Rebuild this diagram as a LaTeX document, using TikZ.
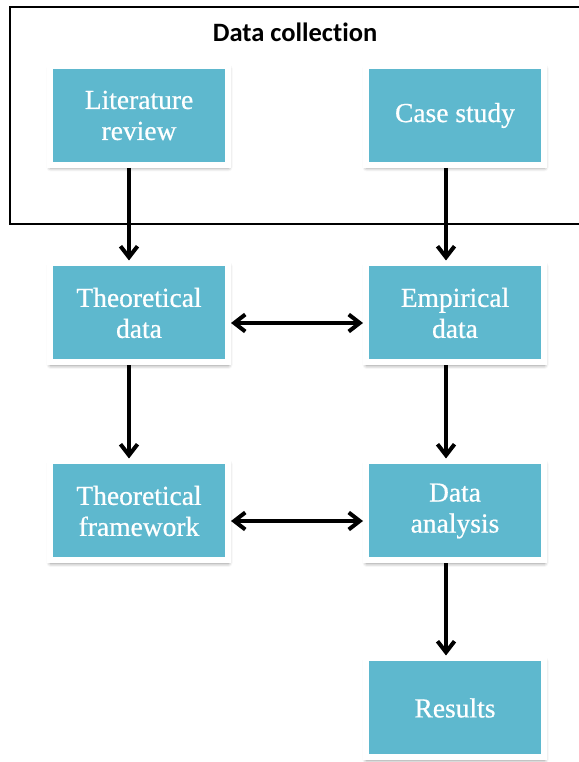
\documentclass[tikz,border=0pt]{standalone}
\usepackage{fontspec}
\setmainfont{Liberation Serif}[FakeBold=0.6]
\newfontfamily\titlefont{Carlito}[Ligatures=NoCommon]
\usetikzlibrary{arrows.meta,shadows.blur}
\definecolor{boxteal}{RGB}{94,184,206}
\tikzset{
  stepbox/.style={draw=white, line width=6pt, fill=boxteal,
    minimum width=178pt, minimum height=99pt, inner sep=0pt,
    align=center, text=white,
    font=\fontsize{27.5}{31}\selectfont,
    blur shadow={shadow xshift=0.5pt, shadow yshift=-2.5pt,
      shadow blur radius=4pt, shadow opacity=55}},
  flow/.style={line width=4pt, -{Straight Barb[length=11pt,width=17pt]}},
  both/.style={line width=4pt, {Straight Barb[length=11pt,width=17pt]}-{Straight Barb[length=11pt,width=17pt]}}
}
\begin{document}
\begin{tikzpicture}[x=1pt,y=1pt]
\useasboundingbox (0,0) rectangle (578,762);
% frame around the data collection stage
\draw[line width=2pt] (580,755) -- (10,755) -- (10,538) -- (580,538);
\node[font=\titlefont\bfseries\fontsize{26.5}{30}\selectfont, anchor=base] (title) at (295,720) {Data collection};

\node[stepbox] (lit)  at (139,646.5) {Literature\\review};
\node[stepbox] (case) at (455,646.5) {Case study};
\node[stepbox] (theo) at (139,449) {Theoretical\\data};
\node[stepbox] (emp)  at (455,449) {Empirical\\data};
\node[stepbox] (frm)  at (139,251) {Theoretical\\framework};
\node[stepbox] (ana)  at (455,251) {Data\\analysis};
\node[stepbox] (res)  at (455,54)  {Results};

\draw[flow] ([xshift=-10pt]lit.south)  -- ([xshift=-10pt]theo.north);
\draw[flow] ([xshift=-9pt]case.south)  -- ([xshift=-9pt]emp.north);
\draw[flow] ([xshift=-10pt]theo.south) -- ([xshift=-10pt]frm.north);
\draw[flow] ([xshift=-9pt]emp.south)   -- ([xshift=-9pt]ana.north);
\draw[flow] ([xshift=-9pt]ana.south)   -- ([xshift=-9pt]res.north);
\draw[both] ([yshift=-10pt]theo.east) -- ([yshift=-10pt]emp.west);
\draw[both] ([yshift=-10pt]frm.east)  -- ([yshift=-10pt]ana.west);
\end{tikzpicture}
\end{document}
